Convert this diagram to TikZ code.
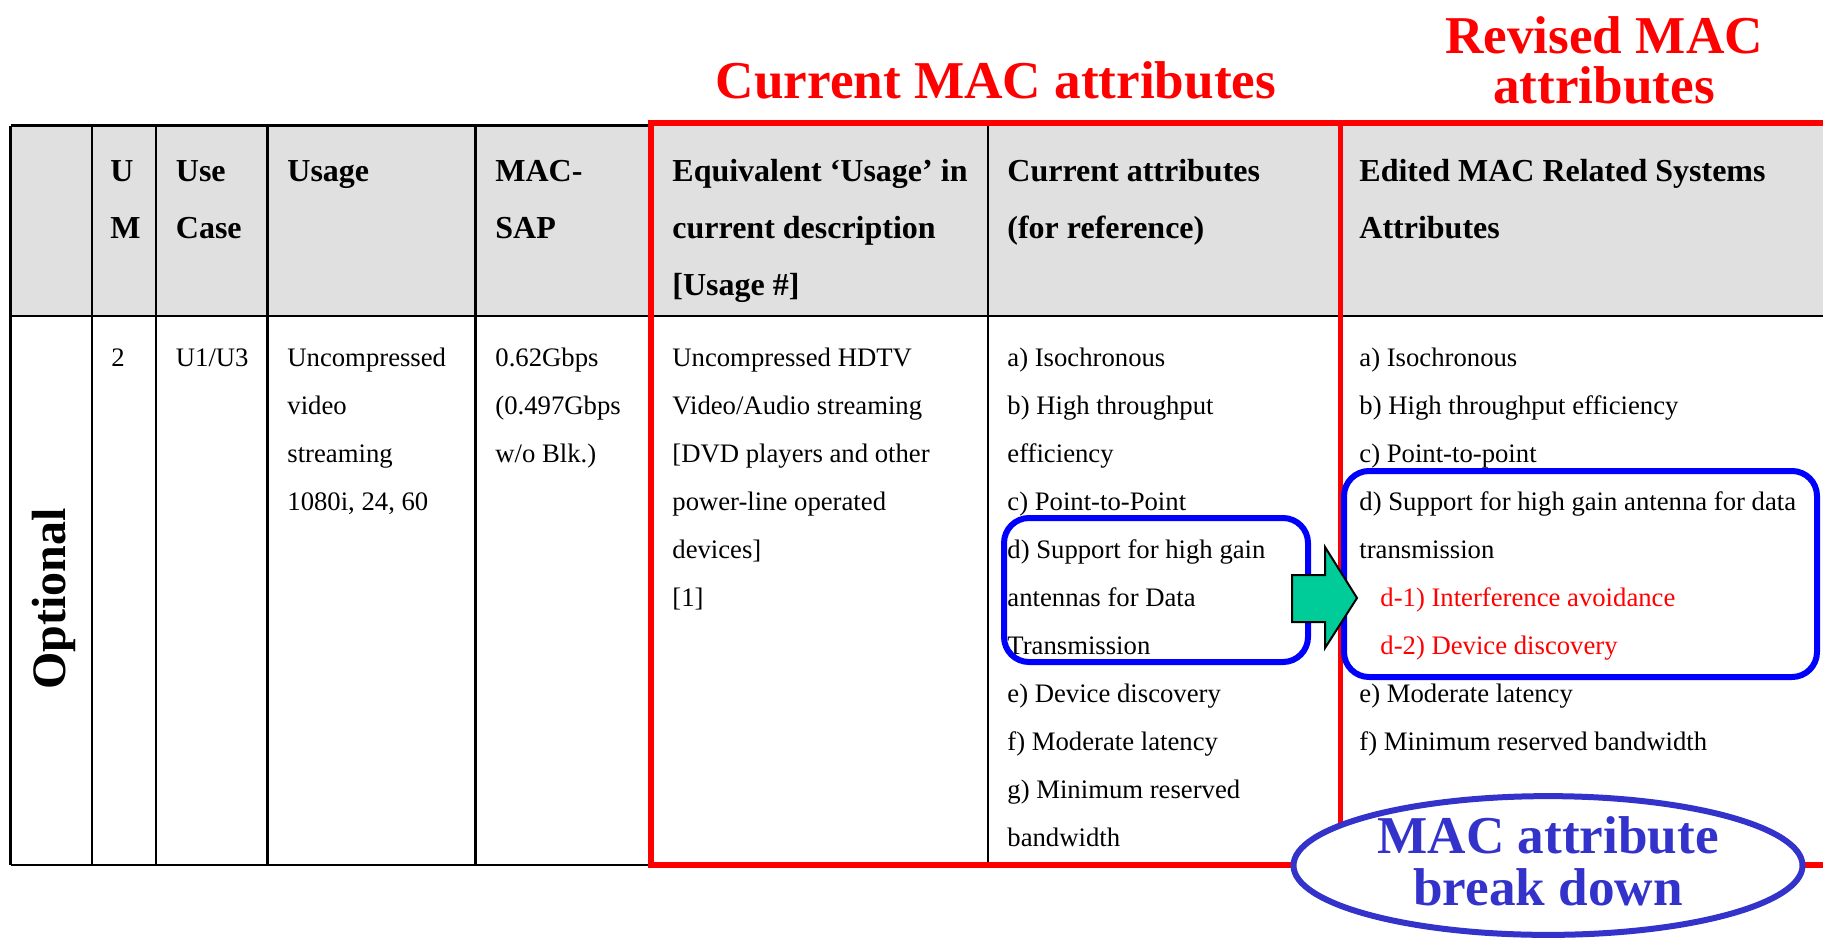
\documentclass[tikz,border=0pt]{standalone}
\usepackage{fontspec}
\setmainfont{Liberation Serif}
\usetikzlibrary{shapes.geometric}

\definecolor{hdrgray}{HTML}{E0E0E0}
\definecolor{macred}{HTML}{FF0000}
\definecolor{boxblue}{HTML}{0000FF}
\definecolor{capblue}{HTML}{3333CC}
\definecolor{arrowgreen}{HTML}{00CC99}

% multi-line nodes sit on the baseline of their last line
\tikzset{
  hdr/.style={anchor=base west, inner sep=0pt, align=left, font=\fontsize{16}{28.5}\selectfont\bfseries},
  cell/.style={anchor=base west, inner sep=0pt, align=left, font=\fontsize{13.35}{24}\selectfont},
  title/.style={text=macred, inner sep=0pt, align=center, font=\fontsize{26.6}{25}\selectfont\bfseries},
  rule/.style={line width=1.2pt},
  redframe/.style={draw=macred, line width=2.6pt},
  bluebox/.style={draw=boxblue, line width=3pt, rounded corners=12.5pt},
}

\begin{document}
\begin{tikzpicture}[x=0.5pt, y=-0.5pt]
            \useasboundingbox (0,0) rectangle (1823,937);

            % Header band - light gray
            \fill[hdrgray] (10.5,125.5) rectangle (1823,316);

            % Table rules
            \draw[rule] (10.5,125.5) -- (651,125.5); \draw[rule] (10.5,316) -- (1823,316); \draw[rule] (10.5,865) -- (651,865);
            \foreach \x in {10.5, 91.8, 155.8, 267.4, 475.5} \draw[rule] (\x,125.5) -- (\x,865);
            \draw[rule] (988,123) -- (988,865);

            % Header row
            \node[hdr] (hum) at (110,238) {U\\M};
            \node[hdr] (hcase) at (175.5,238) {Use\\Case};
            \node[hdr] (husage) at (287,181) {Usage};
            \node[hdr] (hsap) at (495,238) {MAC-\\SAP};
            \node[hdr] (hequiv) at (672,295) {Equivalent ‘Usage’ in\\current description\\{[Usage \#]}};
            \node[hdr] (hcurrent) at (1007,238) {Current attributes\\(for reference)};
            \node[hdr] (hedited) at (1359,238) {Edited MAC Related Systems\\Attributes};

            % Body row
            \node[rotate=90, inner sep=0pt, font=\fontsize{24}{28}\selectfont\bfseries] (optional) at (54,599) {Optional};
            \node[cell] (bum) at (111,366) {2};
            \node[cell] (bcase) at (175.5,366) {U1/U3};
            \node[cell] (busage) at (287,510) {Uncompressed\\video\\streaming\\1080i, 24, 60};
            \node[cell] (bsap) at (495,462) {0.62Gbps\\(0.497Gbps\\w/o Blk.)};
            \node[cell] (bequiv) at (672,606) {Uncompressed HDTV\\Video/Audio streaming\\{[DVD players and other}\\power-line operated\\devices]\\{[1]}};
            \node[cell] (bcurrent) at (1007,846) {a) Isochronous\\b) High throughput\\efficiency\\c) Point-to-Point\\d) Support for high gain\\antennas for Data\\Transmission\\e) Device discovery\\f) Moderate latency\\g) Minimum reserved\\bandwidth};
            \node[cell] (bedited) at (1359,750) {a) Isochronous\\b) High throughput efficiency\\c) Point-to-point\\d) Support for high gain antenna for data\\transmission\\\hspace*{10.5pt}\textcolor{macred}{d-1) Interference avoidance}\\\hspace*{10.5pt}\textcolor{macred}{d-2) Device discovery}\\e) Moderate latency\\f) Minimum reserved bandwidth};

            % Red frames and their titles
            \draw[redframe] (1823,123) -- (651,123) -- (651,865) -- (1823,865);
            \draw[redframe] (1340.5,123) -- (1340.5,865);
            \node[title, anchor=base] (curtitle) at (996,98) {Current MAC attributes};
            \node[title, anchor=base] (revtitle) at (1604,103) {Revised MAC\\attributes};

            % Blue boxes and the green arrow
            \draw[bluebox] (1004,518) rectangle (1308,662);
            \draw[bluebox] (1344,471) rectangle (1817,677);
            \draw[fill=arrowgreen, line width=1pt] (1292,575) -- (1325,575) -- (1325,547) -- (1357,598) -- (1325,648) -- (1325,622) -- (1292,622) -- cycle;

            % Break down label
            \node[ellipse, draw=capblue, fill=white, line width=3pt, minimum width=254.5pt, minimum height=65pt, inner sep=0pt, text depth=4.6pt, text=capblue, align=center, font=\fontsize{26.6}{26}\selectfont\bfseries] (breakdown) at (1548,865.5) {MAC attribute\\break down};
        \end{tikzpicture}
\end{document}
